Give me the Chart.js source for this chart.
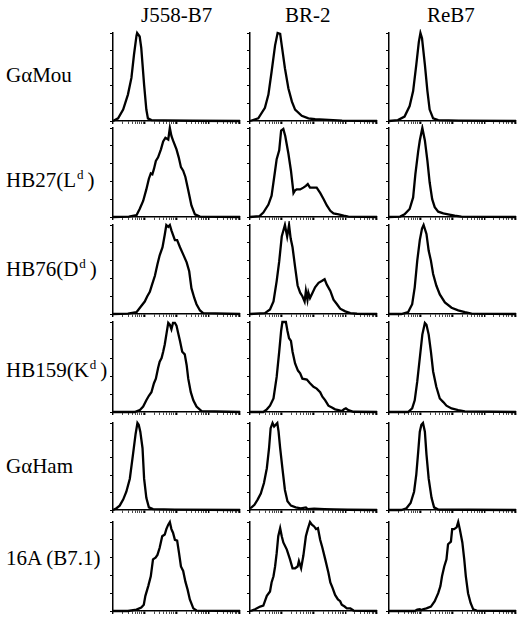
<!DOCTYPE html>
<html>
<head>
<meta charset="utf-8">
<script src="https://cdn.jsdelivr.net/npm/chart.js@4"></script>
<style>
  body { margin: 0; background: #fff; }
  #wrap { position: relative; width: 520px; height: 619px; overflow: hidden; }
  #wrap canvas { position: absolute; }
  .lbl { position: absolute; font-family: 'Liberation Serif', 'DejaVu Serif', 'Times New Roman', Times, serif; font-size: 21px; line-height: 21px; color: #000; white-space: nowrap; }
  .sup { position: relative; top: -8px; font-size: 13px; margin-left: 1px; margin-right: 4px; }
</style>
</head>
<body>
<div id="wrap"></div>
<script>

// column / row names
var cellLines = ['J558-B7', 'BR-2', 'ReB7'];
var stains = ['G\u03b1Mou', 'HB27(L|d)', 'HB76(D|d)', 'HB159(K|d)', 'G\u03b1Ham', '16A (B7.1)'];

// x in log decades (10^0 .. 10^4), y in % of max
var jMouX = [0, 0.16, 0.32, 0.47, 0.58, 0.66, 0.74, 0.76, 0.84, 0.89, 0.98, 1.05, 1.1, 1.21, 1.6, 2.5, 4];
var jMouY = [0, 3, 13, 30, 49, 75, 97, 100, 96, 83, 41, 13, 3, 1, 0.6, 0.3, 0];
var bMouX = [0, 0.26, 0.47, 0.58, 0.68, 0.79, 0.87, 0.95, 1.0, 1.1, 1.21, 1.32, 1.42, 1.63, 1.84, 2.05, 2.9, 4];
var bMouY = [0, 3, 15, 30, 56, 86, 100, 99, 86, 60, 37, 22, 13, 6, 3, 2, 0.5, 0];
var rMouX = [0, 0.28, 0.49, 0.65, 0.76, 0.86, 0.94, 0.99, 1.04, 1.13, 1.21, 1.28, 1.39, 1.55, 2.2, 4];
var rMouY = [0, 1, 5, 17, 34, 64, 90, 100, 94, 64, 34, 13, 3, 1, 0.5, 0];

var jLX = [0, 0.5, 0.74, 0.84, 0.95, 1.05, 1.13, 1.19, 1.24, 1.29, 1.35, 1.42, 1.51, 1.58, 1.65, 1.74, 1.79, 1.84, 1.89, 2.0, 2.07, 2.14, 2.21, 2.28, 2.37, 2.47, 2.58, 2.74, 4];
var jLY = [0, 0.5, 2, 9, 18, 31, 43, 49, 48, 54, 63, 67, 76, 85, 89, 87, 100, 91, 86, 76, 67, 56, 52, 45, 30, 13, 3, 0.5, 0];
var bLX = [0, 0.3, 0.42, 0.58, 0.68, 0.79, 0.84, 0.92, 0.98, 1.05, 1.11, 1.21, 1.29, 1.37, 1.42, 1.47, 1.58, 1.68, 1.76, 1.82, 1.89, 2.0, 2.1, 2.21, 2.32, 2.42, 2.53, 2.63, 2.79, 2.95, 3.1, 4];
var bLY = [0, 1, 5, 14, 24, 52, 65, 75, 97, 99, 91, 71, 52, 27, 30, 31, 31, 33, 35, 37, 33, 33, 33, 27, 20, 13, 7, 4, 3, 1.5, 0.5, 0];
var rLX = [0, 0.35, 0.49, 0.65, 0.76, 0.83, 0.92, 0.97, 1.05, 1.13, 1.21, 1.28, 1.36, 1.44, 1.55, 1.71, 1.86, 2.07, 2.28, 4];
var rLY = [0, 0.5, 3, 9, 22, 48, 74, 86, 100, 86, 63, 39, 20, 11, 6, 4, 3, 1.5, 0.5, 0];

var jDX = [0, 0.47, 0.74, 0.89, 1.0, 1.08, 1.16, 1.23, 1.32, 1.4, 1.47, 1.56, 1.63, 1.68, 1.74, 1.79, 1.84, 1.89, 1.95, 2.02, 2.11, 2.21, 2.32, 2.4, 2.47, 2.56, 2.63, 2.74, 2.84, 4];
var jDY = [0, 0.5, 2, 9, 14, 20, 25, 33, 43, 56, 66, 75, 89, 100, 98, 100, 94, 89, 83, 83, 75, 67, 58, 48, 29, 18, 11, 4, 1, 0];
var bDX = [0, 0.47, 0.63, 0.74, 0.84, 0.92, 1.0, 1.1, 1.17, 1.23, 1.28, 1.34, 1.42, 1.5, 1.58, 1.65, 1.72, 1.76, 1.81, 1.84, 1.89, 1.97, 2.05, 2.16, 2.26, 2.35, 2.42, 2.53, 2.63, 2.74, 2.84, 3.0, 3.16, 3.37, 4];
var bDY = [0, 1, 5, 14, 37, 59, 87, 100, 87, 100, 85, 75, 53, 32, 24, 20, 14, 26, 16, 24, 18, 24, 30, 35, 37, 39, 33, 26, 16, 11, 6, 3, 1, 0.3, 0];
var rDX = [0, 0.39, 0.6, 0.73, 0.81, 0.89, 0.97, 1.04, 1.09, 1.18, 1.25, 1.32, 1.39, 1.49, 1.6, 1.76, 1.97, 2.18, 2.39, 2.6, 4];
var rDY = [0, 0, 2, 11, 30, 60, 83, 96, 100, 90, 71, 60, 45, 32, 22, 13, 7, 4, 2, 0.5, 0];

var jKX = [0, 0.68, 0.84, 0.95, 1.05, 1.13, 1.21, 1.29, 1.35, 1.42, 1.47, 1.53, 1.58, 1.63, 1.68, 1.74, 1.79, 1.84, 1.89, 1.95, 2.0, 2.05, 2.11, 2.18, 2.26, 2.32, 2.37, 2.45, 2.53, 2.63, 2.79, 4];
var jKY = [0, 0, 2, 6, 13, 18, 22, 32, 37, 49, 56, 60, 67, 75, 86, 99, 97, 92, 99, 99, 96, 88, 79, 67, 64, 52, 37, 22, 13, 6, 1, 0];
var bKX = [0, 0.42, 0.53, 0.63, 0.74, 0.84, 0.92, 0.98, 1.02, 1.13, 1.18, 1.23, 1.29, 1.34, 1.42, 1.51, 1.58, 1.65, 1.79, 1.89, 2.0, 2.1, 2.21, 2.28, 2.37, 2.47, 2.58, 2.68, 2.79, 2.89, 2.96, 3.02, 3.1, 3.26, 4];
var bKY = [0, 0, 3, 7, 15, 39, 67, 90, 100, 100, 90, 82, 79, 67, 54, 46, 43, 37, 36, 32, 28, 26, 22, 17, 13, 7, 5, 3, 2, 1, 3, 4, 2, 0.3, 0];
var rKX = [0, 0.6, 0.73, 0.81, 0.89, 0.97, 1.05, 1.13, 1.18, 1.25, 1.32, 1.39, 1.49, 1.6, 1.71, 1.81, 1.97, 2.18, 2.39, 4];
var rKY = [0, 0, 4, 13, 34, 60, 86, 99, 97, 86, 67, 45, 28, 15, 11, 7, 4, 2, 0.7, 0];

var jHamX = [0, 0.11, 0.21, 0.32, 0.42, 0.53, 0.63, 0.71, 0.77, 0.81, 0.86, 0.93, 0.98, 1.05, 1.13, 1.26, 1.95, 4];
var jHamY = [0, 2, 5, 12, 21, 36, 64, 87, 100, 98, 90, 71, 36, 14, 3, 1, 0.5, 0];
var bHamX = [0, 0.05, 0.14, 0.24, 0.34, 0.44, 0.53, 0.6, 0.65, 0.71, 0.76, 0.81, 0.86, 0.9, 0.95, 1.02, 1.1, 1.18, 1.29, 1.44, 1.6, 1.76, 1.81, 2.02, 2.34, 2.65, 3.07, 4];
var bHamY = [2, 3, 6, 12, 19, 31, 48, 71, 94, 100, 96, 98, 100, 90, 71, 48, 23, 10, 5, 3, 2, 3, 1, 1.5, 1, 0.7, 0.3, 0];
var rHamX = [0, 0.39, 0.55, 0.68, 0.79, 0.86, 0.92, 0.97, 1.02, 1.07, 1.13, 1.18, 1.25, 1.34, 1.42, 1.55, 2.5, 4];
var rHamY = [0, 0, 2, 8, 21, 41, 67, 90, 98, 100, 90, 64, 36, 14, 3, 0.5, 0.3, 0];

var jBX = [0, 0.47, 0.74, 0.89, 0.97, 1.02, 1.11, 1.19, 1.26, 1.34, 1.4, 1.47, 1.55, 1.63, 1.68, 1.74, 1.79, 1.84, 1.89, 1.95, 2.02, 2.08, 2.14, 2.21, 2.28, 2.35, 2.42, 2.53, 2.63, 4];
var jBY = [0, 0, 1.5, 4, 7, 17, 28, 39, 58, 60, 63, 71, 84, 86, 92, 97, 100, 92, 88, 80, 79, 65, 50, 45, 33, 24, 13, 3, 0.5, 0];
var bBX = [0, 0.05, 0.16, 0.32, 0.42, 0.53, 0.63, 0.68, 0.74, 0.79, 0.84, 0.89, 0.95, 1.0, 1.05, 1.16, 1.26, 1.34, 1.42, 1.5, 1.54, 1.61, 1.68, 1.76, 1.82, 1.89, 1.95, 2.02, 2.08, 2.14, 2.21, 2.28, 2.37, 2.47, 2.53, 2.6, 2.68, 2.77, 2.84, 2.89, 2.98, 3.05, 3.16, 3.26, 4];
var bBY = [0, 0.5, 2, 5, 6, 17, 22, 32, 39, 50, 65, 84, 93, 84, 77, 69, 58, 48, 48, 50, 56, 48, 62, 84, 92, 100, 97, 95, 92, 93, 80, 71, 58, 43, 32, 26, 18, 13, 11, 7, 5, 3, 3, 0.5, 0];
var rBX = [0, 0.81, 0.89, 0.97, 1.02, 1.07, 1.18, 1.32, 1.44, 1.55, 1.62, 1.67, 1.74, 1.81, 1.86, 1.95, 1.99, 2.05, 2.13, 2.18, 2.23, 2.31, 2.37, 2.42, 2.49, 2.57, 2.65, 2.76, 4];
var rBY = [0, 0, 1.5, 2, 1, 2, 3, 5, 11, 20, 28, 39, 50, 58, 75, 78, 92, 92, 94, 100, 92, 77, 58, 39, 20, 9, 2, 0.5, 0];

var panelData = [
  [[jMouX, jMouY], [bMouX, bMouY], [rMouX, rMouY]],
  [[jLX, jLY], [bLX, bLY], [rLX, rLY]],
  [[jDX, jDY], [bDX, bDY], [rDX, rDY]],
  [[jKX, jKY], [bKX, bKY], [rKX, rKY]],
  [[jHamX, jHamY], [bHamX, bHamY], [rHamX, rHamY]],
  [[jBX, jBY], [bBX, bBY], [rBX, rBY]]
];

// axis ticks
var decades = [0, 1, 2, 3, 4];
var minorSteps = [2, 3, 4, 5, 6, 7, 8, 9];
var yTicks = [0, 20, 40, 60, 80, 100];

var xTicks = [];
decades.forEach(function(d) {
  xTicks.push(d);
  if (d < 4) minorSteps.forEach(function(k) { xTicks.push(d + Math.log10(k)); });
});

// layout of the grid
var colLeft = [113, 250, 389];
var colWidth = 127;
var rowTop = [33, 128, 225, 322, 423, 522];
var rowBase = [121, 217, 314, 412, 510, 611];
var colCenter = [176.5, 308, 451];
var rowLabelBase = [83, 188, 277, 378, 474, 566];

var wrap = document.getElementById('wrap');

function addLabel(text, left, baseline, center) {
  var el = document.createElement('div');
  el.className = 'lbl';
  var parts = text.split('|');
  if (parts.length > 1) {
    var close = parts[1].slice(1);
    el.innerHTML = parts[0] + '<span class="sup">' + parts[1][0] + '</span>' + close;
  } else {
    el.textContent = text;
  }
  el.style.top = (baseline - 17.6) + 'px';
  wrap.appendChild(el);
  if (center) el.style.left = (left - el.offsetWidth / 2) + 'px';
  else el.style.left = left + 'px';
}

cellLines.forEach(function(name, i) { addLabel(name, colCenter[i], 23, true); });
stains.forEach(function(name, i) { addLabel(name, 6, rowLabelBase[i], false); });

function renderPanel(r, c) {
  var xs = panelData[r][c][0], ys = panelData[r][c][1];
  var plotH = rowBase[r] - rowTop[r];
  var canvas = document.createElement('canvas');
  canvas.width = colWidth + 9;
  canvas.height = plotH + 9;
  canvas.style.left = (colLeft[c] - 5) + 'px';
  canvas.style.top = (rowTop[r] - 4) + 'px';
  wrap.appendChild(canvas);

  var pts = xs.map(function(x, i) { return { x: x, y: ys[i] }; });

  new Chart(canvas.getContext('2d'), {
    type: 'line',
    data: {
      datasets: [{
        data: pts,
        borderColor: '#000',
        borderWidth: 2.3,
        pointRadius: 0,
        tension: 0,
        fill: false,
        clip: false
      }]
    },
    options: {
      responsive: false,
      animation: false,
      events: [],
      layout: { padding: { top: 4, right: 4, left: 0, bottom: 0 } },
      plugins: { legend: { display: false }, tooltip: { enabled: false } },
      scales: {
        x: {
          type: 'linear', min: 0, max: 4,
          afterBuildTicks: function(s) { s.ticks = xTicks.map(function(v) { return { value: v }; }); },
          afterFit: function(s) { s.height = 5; },
          ticks: { display: false },
          grid: {
            drawOnChartArea: false, drawTicks: true, tickLength: 3, color: '#000',
            lineWidth: function(ctx) { return ctx.tick && Number.isInteger(ctx.tick.value) ? 1.4 : 0.7; }
          },
          border: { display: true, color: '#000', width: 1.5 }
        },
        y: {
          min: 0, max: 100,
          afterBuildTicks: function(s) { s.ticks = yTicks.map(function(v) { return { value: v }; }); },
          afterFit: function(s) { s.width = 5; },
          ticks: { display: false },
          grid: { drawOnChartArea: false, drawTicks: true, tickLength: 3, color: '#000', lineWidth: 1 },
          border: { display: true, color: '#000', width: 1.5 }
        }
      }
    }
  });
}

for (var r = 0; r < 6; r++) {
  for (var c = 0; c < 3; c++) renderPanel(r, c);
}
</script>
</body>
</html>
